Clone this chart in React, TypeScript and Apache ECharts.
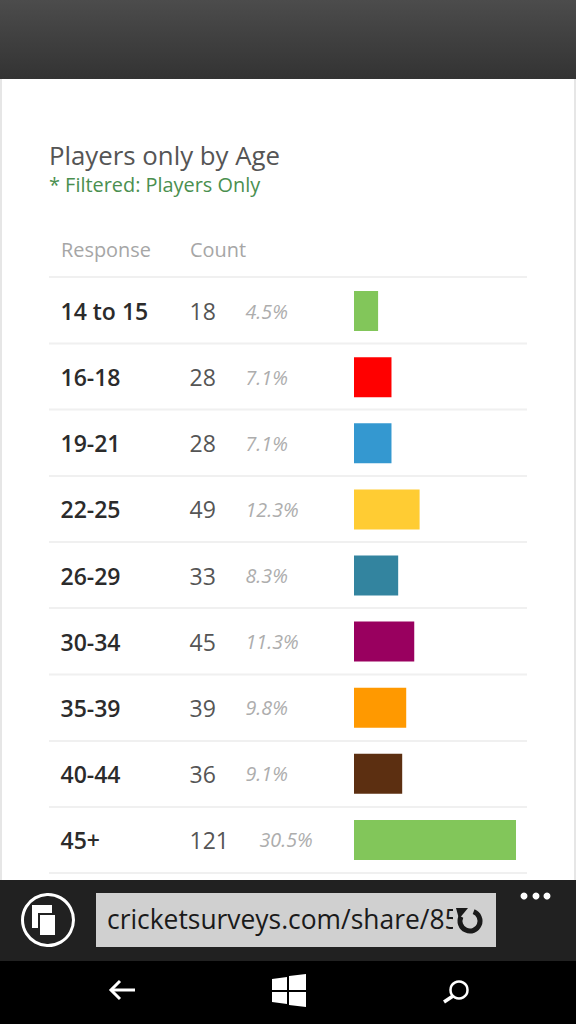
import React, { useEffect, useRef } from "react";
import * as echarts from "echarts";

const categories = ["14 to 15", "16-18", "19-21", "22-25", "26-29", "30-34", "35-39", "40-44", "45+"];
const counts = [18, 28, 28, 49, 33, 45, 39, 36, 121];
const percents = ["4.5%", "7.1%", "7.1%", "12.3%", "8.3%", "11.3%", "9.8%", "9.1%", "30.5%"];
const barColors = ["#82c65a", "#ff0000", "#3498d0", "#ffcc33", "#33849f", "#99005f", "#ff9900", "#5c2f11", "#82c65a"];
const title = "Players only by Age";
const subtitle = "* Filtered: Players Only";
const headers = ["Response", "Count"];
const url = "cricketsurveys.com/share/85";
const FONT = "'Open Sans'";

const ruleYs = [277, 343.5, 409.5, 476, 542, 608, 674.5, 741, 807, 873];

export default function App() {
  const ref = useRef<HTMLDivElement>(null);
  useEffect(() => {
    document.body.style.margin = "0";
    const chart = echarts.init(ref.current!, undefined, { renderer: "svg" });
    const W = "#ffffff";
    const graphic: any[] = [
      { type: "rect", z: -5, shape: { x: 0, y: 0, width: 576, height: 79 }, style: { fill: new echarts.graphic.LinearGradient(0, 0, 0, 1, [{ offset: 0, color: "#4c4c4c" }, { offset: 1, color: "#333333" }]) } },
      { type: "rect", z: -5, shape: { x: 0, y: 79, width: 2, height: 801 }, style: { fill: "#e6e6e6" } },
      { type: "rect", z: -5, shape: { x: 574, y: 79, width: 2, height: 801 }, style: { fill: "#e6e6e6" } },
      { type: "text", x: 49, y: 155, style: { text: title, font: `25.8px ${FONT}`, fill: "#555555", textVerticalAlign: "middle" } },
      { type: "text", x: 49, y: 184, style: { text: subtitle, font: `19.9px ${FONT}`, fill: "#4a8f4f", textVerticalAlign: "middle" } },
      { type: "text", x: 61, y: 249.5, style: { text: headers[0], font: `19.9px ${FONT}`, fill: "#a6a6a6", textVerticalAlign: "middle" } },
      { type: "text", x: 190, y: 249.5, style: { text: headers[1], font: `19.9px ${FONT}`, fill: "#a6a6a6", textVerticalAlign: "middle" } },
      ...ruleYs.map((y) => ({ type: "rect", z: -4, shape: { x: 49, y: y - 1, width: 478, height: 2 }, style: { fill: "#f0f0f0" } })),
      // bottom browser chrome
      { type: "rect", z: 10, shape: { x: 0, y: 880, width: 576, height: 81 }, style: { fill: "#212121" } },
      { type: "rect", z: 10, shape: { x: 0, y: 961, width: 576, height: 63 }, style: { fill: "#000000" } },
      { type: "circle", z: 11, shape: { cx: 48, cy: 920, r: 25.5 }, style: { fill: "none", stroke: W, lineWidth: 3 } },
      { type: "rect", z: 11, shape: { x: 32, y: 905, width: 20, height: 23 }, style: { fill: W } },
      { type: "rect", z: 11, shape: { x: 39, y: 914, width: 17, height: 22 }, style: { fill: W, stroke: "#212121", lineWidth: 2 } },
      { type: "rect", z: 11, shape: { x: 96, y: 893, width: 400, height: 54 }, style: { fill: "#d0d0d0" } },
      { type: "text", z: 12, x: 107, y: 919, style: { text: url, font: `26.4px ${FONT}`, fill: "#1a1a1a", textVerticalAlign: "middle" } },
      { type: "rect", z: 13, shape: { x: 453, y: 895, width: 42, height: 50 }, style: { fill: "#d0d0d0" } },
      { type: "arc", z: 14, shape: { cx: 470, cy: 921, r: 10, startAngle: -1.2, endAngle: 3.6, clockwise: true }, style: { fill: "none", stroke: "#1a1a1a", lineWidth: 5 } },
      { type: "polygon", z: 14, shape: { points: [[456, 908], [468, 908], [459, 919]] }, style: { fill: "#1a1a1a" } },
      { type: "circle", z: 11, shape: { cx: 524, cy: 896, r: 3.5 }, style: { fill: W } },
      { type: "circle", z: 11, shape: { cx: 536, cy: 896, r: 3.5 }, style: { fill: W } },
      { type: "circle", z: 11, shape: { cx: 547, cy: 896, r: 3.5 }, style: { fill: W } },
      { type: "polyline", z: 11, shape: { points: [[120, 981], [111, 990], [120, 999]] }, style: { fill: "none", stroke: W, lineWidth: 3 } },
      { type: "line", z: 11, shape: { x1: 111, y1: 990, x2: 135, y2: 990 }, style: { stroke: W, lineWidth: 3 } },
      { type: "polygon", z: 11, shape: { points: [[272, 979], [287, 977], [287, 990], [272, 990]] }, style: { fill: W } },
      { type: "polygon", z: 11, shape: { points: [[289, 976], [306, 974], [306, 990], [289, 990]] }, style: { fill: W } },
      { type: "polygon", z: 11, shape: { points: [[272, 992], [287, 992], [287, 1004], [272, 1002]] }, style: { fill: W } },
      { type: "polygon", z: 11, shape: { points: [[289, 992], [306, 992], [306, 1007], [289, 1005]] }, style: { fill: W } },
      { type: "circle", z: 11, shape: { cx: 459, cy: 990, r: 8.5 }, style: { fill: "none", stroke: W, lineWidth: 2.5 } },
      { type: "line", z: 11, shape: { x1: 453, y1: 996, x2: 444, y2: 1002 }, style: { stroke: W, lineWidth: 3.5 } },
    ];
    chart.setOption({
      animation: false,
      backgroundColor: "#ffffff",
      textStyle: { fontFamily: FONT },
      grid: { left: 354, top: 278, width: 162, height: 595 },
      xAxis: { type: "value", min: 0, max: 121, show: false },
      yAxis: [
        {
          type: "category", inverse: true, data: categories,
          axisLine: { show: false }, axisTick: { show: false }, splitLine: { show: false },
          axisLabel: { align: "left", margin: 293.5, fontFamily: FONT, fontSize: 23, fontWeight: 600, color: "#2b2b2b" },
        },
        {
          type: "category", inverse: true, position: "left", data: counts.map(String),
          axisLine: { show: false }, axisTick: { show: false }, splitLine: { show: false },
          axisLabel: {
            align: "left", margin: 164.5, interval: 0,
            formatter: (v: string, i: number) => `{${v.length > 2 ? "w" : "c"}|${v}}{p|${percents[i]}}`,
            rich: {
              c: { width: 56, fontFamily: FONT, fontSize: 23, color: "#555555" },
              w: { width: 70, fontFamily: FONT, fontSize: 23, color: "#555555" },
              p: { fontFamily: FONT, fontSize: 19.7, fontStyle: "italic", color: "#adadad" },
            },
          },
        },
      ],
      series: [{
        type: "bar", barWidth: 40, yAxisIndex: 0,
        data: counts.map((v, i) => ({ value: v, itemStyle: { color: barColors[i] } })),
      }],
      graphic,
    });
    return () => chart.dispose();
  }, []);
  return <div ref={ref} style={{ width: 576, height: 1024 }} />;
}
